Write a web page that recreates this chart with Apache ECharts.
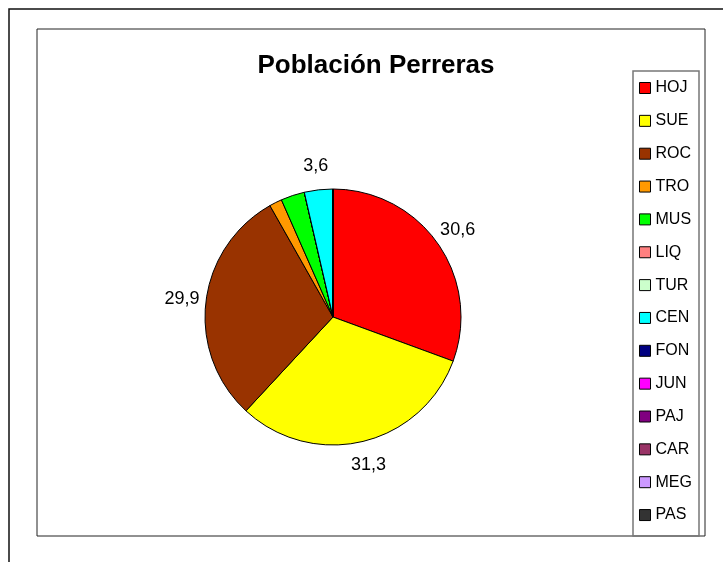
<!DOCTYPE html>
<html>
<head>
<meta charset="utf-8">
<title>Población Perreras</title>
<script src="https://cdn.jsdelivr.net/npm/echarts@6/dist/echarts.min.js"></script>
<style>
  html, body { margin: 0; padding: 0; background: #fff; }
  #chart { width: 723px; height: 562px; }
</style>
</head>
<body>
<div id="chart"></div>
<script>
// Kennel population by group (percent)
const categories = ['HOJ', 'SUE', 'ROC', 'TRO', 'MUS', 'LIQ', 'TUR', 'CEN', 'FON', 'JUN', 'PAJ', 'CAR', 'MEG', 'PAS'];
const values = [30.6, 31.3, 29.9, 1.6, 3.0, 0, 0, 3.6, 0, 0, 0, 0, 0, 0];
const colors = ['#FF0000', '#FFFF00', '#993300', '#FF9900', '#00FF00', '#FF8080', '#CCFFCC',
                '#00FFFF', '#000080', '#FF00FF', '#800080', '#993366', '#CC99FF', '#333333'];
// groups whose value is written beside the slice
const labelled = ['HOJ', 'SUE', 'ROC', 'CEN'];

const FONT = '"Liberation Sans", Arial, sans-serif';
const CX = 333, CY = 317, R = 128, LABEL_R = 152;

const total = values.reduce((a, b) => a + b, 0);
// angle (radians, clockwise from 12 o'clock) at the middle of each slice
const midAngles = [];
let acc = 0;
values.forEach(v => {
  midAngles.push(((acc + v / 2) / total) * Math.PI * 2);
  acc += v;
});

const chart = echarts.init(document.getElementById('chart'), null, { renderer: 'canvas' });

chart.setOption({
  animation: false,
  backgroundColor: '#ffffff',
  color: colors,
  title: {
    text: 'Población Perreras',
    left: 371,
    top: 48,
    textAlign: 'center',
    textStyle: { fontFamily: FONT, fontSize: 26, fontWeight: 'bold', color: '#000' }
  },
  graphic: [
    { type: 'rect', shape: { x: 9, y: 9, width: 900, height: 900 },
      style: { fill: 'none', stroke: '#111', lineWidth: 1.5 }, silent: true, z: -10 },
    { type: 'rect', shape: { x: 37, y: 29, width: 668, height: 507 },
      style: { fill: 'none', stroke: '#222', lineWidth: 1 }, silent: true, z: -10 },
    { type: 'rect', shape: { x: 633, y: 71, width: 66, height: 465 },
      style: { fill: 'none', stroke: '#777', lineWidth: 1.5 }, silent: true, z: -10 }
  ],
  legend: {
    orient: 'vertical',
    left: 639,
    top: 80,
    itemWidth: 11,
    itemHeight: 11,
    itemGap: 16.85,
    icon: 'rect',
    padding: 0,
    itemStyle: { borderColor: '#000', borderWidth: 1 },
    textStyle: { fontFamily: FONT, fontSize: 16, lineHeight: 16, color: '#000' },
    data: categories
  },
  series: [{
    type: 'pie',
    center: [CX, CY],
    radius: R,
    startAngle: 90,
    clockwise: true,
    avoidLabelOverlap: false,
    itemStyle: { borderColor: '#000', borderWidth: 1 },
    label: {
      show: true,
      position: 'outside',
      fontFamily: FONT,
      fontSize: 18,
      color: '#000',
      formatter: p => String(p.value).replace('.', ',')
    },
    labelLine: { show: false },
    labelLayout: p => {
      const a = midAngles[p.dataIndex];
      return {
        x: CX + LABEL_R * Math.sin(a),
        y: CY - LABEL_R * Math.cos(a),
        align: 'center',
        verticalAlign: 'middle'
      };
    },
    emphasis: { disabled: true },
    data: categories.map((c, i) => ({
      name: c,
      value: values[i],
      label: { show: labelled.indexOf(c) >= 0 }
    }))
  }]
});
</script>
</body>
</html>
